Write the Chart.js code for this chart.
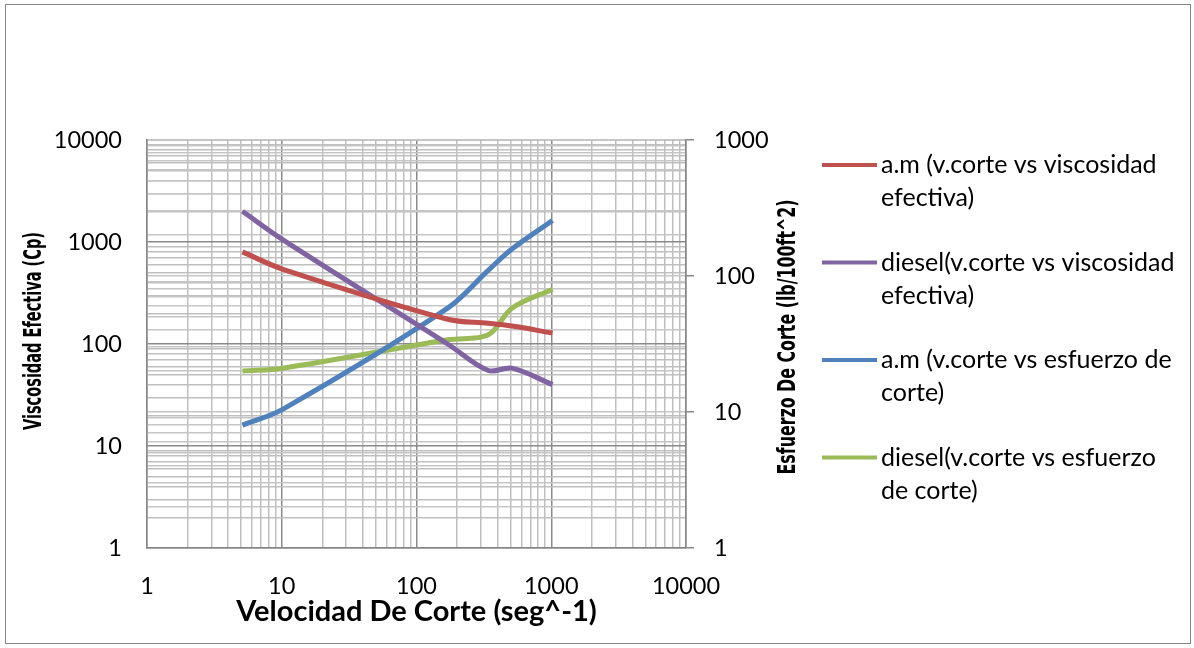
<!DOCTYPE html>
<html>
<head>
<meta charset="utf-8">
<script src="https://cdn.jsdelivr.net/npm/chart.js@4.4.1/dist/chart.umd.min.js"></script>
<style>
  html, body { margin: 0; padding: 0; background: #fff; }
</style>
</head>
<body>
<canvas id="myChart" width="1194" height="648"></canvas>
<script>
// lecturas del viscosimetro (velocidad de corte en seg^-1)
const velocidadCorte = [5.11, 10.22, 170.3, 340.6, 510.9, 1021.8];
const viscosidadAm = [800, 540, 175, 160, 150, 128];
const viscosidadDiesel = [2000, 1050, 100, 55, 58, 40];
const esfuerzoAm = [8, 10.5, 58, 110, 158, 256];
const esfuerzoDiesel = [20, 21, 34, 37, 58, 80];

const etiquetasX = [1, 10, 100, 1000, 10000];
const etiquetasIzq = [1, 10, 100, 1000, 10000];
const etiquetasDer = [1, 10, 100, 1000];

const nombres = [
    ["a.m (v.corte vs viscosidad", "efectiva)"],
    ["diesel(v.corte vs viscosidad", "efectiva)"],
    ["a.m (v.corte vs esfuerzo de", "corte)"],
    ["diesel(v.corte vs esfuerzo", "de corte)"]
];
const colores = ["#C0504D", "#8064A2", "#4F81BD", "#9BBB59"];

const fuente = "Lato, 'Open Sans', sans-serif";
const fuenteEje = "bold 24px 'Liberation Sans Narrow', 'DejaVu Sans Condensed', 'Liberation Sans', sans-serif";

function ticksLog(etiquetas) {
    const lista = [];
    for (let i = 0; i < etiquetas.length - 1; i++) {
        for (let k = 1; k < 10; k++) {
            lista.push({ value: etiquetas[i] * k });
        }
    }
    lista.push({ value: etiquetas[etiquetas.length - 1] });
    return lista;
}

function esMayor(valor) {
    const l = Math.log10(valor);
    return Math.abs(l - Math.round(l)) < 1e-9;
}

function puntos(ys) {
    return velocidadCorte.map((x, i) => ({ x: x, y: ys[i] }));
}

const series = [viscosidadAm, viscosidadDiesel, esfuerzoAm, esfuerzoDiesel];
const ejes = ["y", "y", "y2", "y2"];

const datasets = series.map((ys, i) => ({
    label: nombres[i].join(" "),
    data: puntos(ys),
    yAxisID: ejes[i],
    borderColor: colores[i],
    backgroundColor: colores[i],
    borderWidth: 5,
    pointRadius: 0,
    tension: 0.35,
    fill: false
}));

const extras = {
    id: "extras",
    beforeDraw: (chart) => {
        const ctx = chart.ctx;
        ctx.save();
        ctx.fillStyle = "white";
        ctx.fillRect(0, 0, chart.width, chart.height);
        ctx.restore();
    },
    afterDraw: (chart) => {
        const ctx = chart.ctx;
        const area = chart.chartArea;
        ctx.save();
        ctx.strokeStyle = "#868686";
        ctx.lineWidth = 1;
        ctx.strokeRect(5.5, 4.5, 1185, 639);

        // titulos de los ejes verticales
        ctx.fillStyle = "#000";
        ctx.font = fuenteEje;
        ctx.textAlign = "center";
        ctx.textBaseline = "middle";
        ctx.save();
        ctx.translate(35, area.top + 191);
        ctx.rotate(-Math.PI / 2);
        ctx.fillText("Viscosidad Efectiva (Cp)", 0, 0, 198);
        ctx.restore();
        ctx.save();
        ctx.translate(area.right + 103, area.top + 197);
        ctx.rotate(-Math.PI / 2);
        ctx.fillText("Esfuerzo De Corte (lb/100ft^2)", 0, 0, 275);
        ctx.restore();

        // leyenda
        ctx.font = "25px " + fuente;
        ctx.textAlign = "left";
        const x0 = area.right + 136;
        let y = area.top + 25;
        nombres.forEach((lineas, i) => {
            ctx.strokeStyle = colores[i];
            ctx.lineWidth = 4;
            ctx.beginPath();
            ctx.moveTo(x0, y);
            ctx.lineTo(x0 + 55, y);
            ctx.stroke();
            lineas.forEach((t, j) => {
                ctx.fillText(t, x0 + 59, y + j * 33);
            });
            y += 97.5;
        });
        ctx.restore();
    }
};

const config = {
    type: "line",
    data: { datasets },
    options: {
        responsive: false,
        animation: false,
        layout: {
            padding: { left: 0, right: 398, top: 140, bottom: 0 }
        },
        plugins: {
            legend: { display: false },
            tooltip: { enabled: false }
        },
        scales: {
            x: {
                type: "logarithmic",
                position: "bottom",
                min: 1,
                max: 10000,
                afterBuildTicks: (axis) => { axis.ticks = ticksLog(etiquetasX); },
                afterFit: (axis) => { axis.height = 100; },
                ticks: {
                    autoSkip: false,
                    maxRotation: 0,
                    padding: 24,
                    color: "#000",
                    font: { family: fuente, size: 23.5 },
                    callback: (v) => esMayor(v) ? String(v) : ""
                },
                grid: {
                    drawTicks: false,
                    lineWidth: 1.5,
                    color: (c) => esMayor(c.tick.value) ? "#8a8a8a" : "#bfbfbf"
                },
                border: { color: "#868686", width: 1.5 },
                title: {
                    display: true,
                    text: "Velocidad De Corte (seg^-1)",
                    color: "#000",
                    font: { family: fuente, size: 29, weight: "bold" },
                    padding: { top: 0, bottom: 19 }
                }
            },
            y: {
                type: "logarithmic",
                position: "left",
                min: 1,
                max: 10000,
                afterBuildTicks: (axis) => { axis.ticks = ticksLog(etiquetasIzq); },
                afterFit: (axis) => { axis.width = 147; },
                ticks: {
                    autoSkip: false,
                    padding: 25,
                    color: "#000",
                    font: { family: fuente, size: 23.5 },
                    callback: (v) => esMayor(v) ? String(v) : ""
                },
                grid: {
                    drawTicks: false,
                    lineWidth: 1.5,
                    color: (c) => esMayor(c.tick.value) ? "#8a8a8a" : "#bfbfbf"
                },
                border: { color: "#868686", width: 1.5 }
            },
            y2: {
                type: "logarithmic",
                position: "right",
                min: 1,
                max: 1000,
                afterBuildTicks: (axis) => { axis.ticks = ticksLog(etiquetasDer); },
                afterFit: (axis) => { axis.width = 110; },
                ticks: {
                    autoSkip: false,
                    padding: 20,
                    color: "#000",
                    font: { family: fuente, size: 23.5 },
                    callback: (v) => esMayor(v) ? String(v) : ""
                },
                grid: {
                    drawTicks: true,
                    tickLength: 8,
                    lineWidth: 1.5,
                    color: "#c6c6c6",
                    tickColor: (c) => esMayor(c.tick.value) ? "#868686" : "rgba(0,0,0,0)"
                },
                border: { color: "#868686", width: 1.5 }
            }
        }
    },
    plugins: [extras]
};

const ctx = document.querySelector("#myChart").getContext("2d");
const myChart = new Chart(ctx, config);
</script>
</body>
</html>
